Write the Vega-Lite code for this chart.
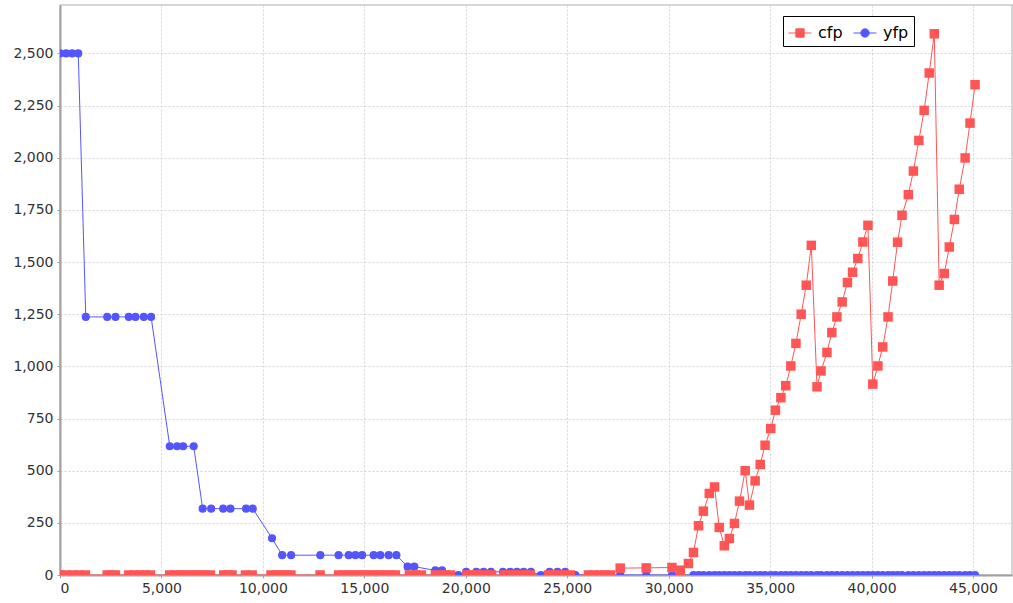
{
  "$schema": "https://vega.github.io/schema/vega-lite/v6.json",
  "width": 952,
  "height": 570,
  "autosize": {"type": "none"},
  "padding": {"left": 60, "top": 5, "right": 1, "bottom": 28},
  "background": "white",
  "config": {
    "view": {"stroke": "#c8c8c8", "strokeWidth": 1.5},
    "font": "DejaVu Sans",
    "axis": {
      "labelFont": "DejaVu Sans",
      "labelFontSize": 14,
      "labelColor": "#333333",
      "domainColor": "#a0a0a0",
      "domainWidth": 2,
      "tickColor": "#a0a0a0",
      "tickSize": 3,
      "gridColor": "#d4d4d4",
      "gridDash": [2, 2],
      "gridWidth": 1,
      "title": null
    }
  },
  "datasets": {
    "yfp": [
      {"x": 0, "v": 2500}, {"x": 300, "v": 2500}, {"x": 600, "v": 2500}, {"x": 900, "v": 2500},
      {"x": 1270, "v": 1237}, {"x": 2325, "v": 1237}, {"x": 2735, "v": 1237}, {"x": 3390, "v": 1237}, {"x": 3720, "v": 1237}, {"x": 4130, "v": 1237}, {"x": 4490, "v": 1237},
      {"x": 5410, "v": 617}, {"x": 5770, "v": 617}, {"x": 6070, "v": 617}, {"x": 6590, "v": 617},
      {"x": 7030, "v": 318}, {"x": 7450, "v": 318}, {"x": 8040, "v": 318}, {"x": 8400, "v": 318}, {"x": 9170, "v": 318}, {"x": 9500, "v": 318},
      {"x": 10450, "v": 176},
      {"x": 10950, "v": 95}, {"x": 11390, "v": 95}, {"x": 12830, "v": 95}, {"x": 13730, "v": 95}, {"x": 14230, "v": 95}, {"x": 14560, "v": 95}, {"x": 14890, "v": 95}, {"x": 15460, "v": 95}, {"x": 15790, "v": 95}, {"x": 16200, "v": 95}, {"x": 16580, "v": 95},
      {"x": 17130, "v": 40}, {"x": 17460, "v": 40},
      {"x": 18500, "v": 22}, {"x": 18830, "v": 22},
      {"x": 19630, "v": 0},
      {"x": 20020, "v": 15}, {"x": 20520, "v": 15}, {"x": 20880, "v": 15}, {"x": 21240, "v": 15}, {"x": 21830, "v": 15}, {"x": 22190, "v": 15}, {"x": 22520, "v": 15}, {"x": 22850, "v": 15}, {"x": 23210, "v": 15},
      {"x": 23700, "v": 0},
      {"x": 24130, "v": 15}, {"x": 24520, "v": 15}, {"x": 24900, "v": 15},
      {"x": 25400, "v": 0}, {"x": 27610, "v": 0}, {"x": 28890, "v": 0}, {"x": 30160, "v": 0},
      {"x": 31220, "v": 0}, {"x": 31470, "v": 0}, {"x": 31710, "v": 0}, {"x": 32000, "v": 0}, {"x": 32260, "v": 0}, {"x": 32490, "v": 0}, {"x": 32740, "v": 0}, {"x": 32990, "v": 0}, {"x": 33240, "v": 0}, {"x": 33490, "v": 0},
      {"x": 33770, "v": 0}, {"x": 33980, "v": 0}, {"x": 34260, "v": 0}, {"x": 34510, "v": 0}, {"x": 34750, "v": 0}, {"x": 35030, "v": 0}, {"x": 35260, "v": 0}, {"x": 35530, "v": 0}, {"x": 35770, "v": 0}, {"x": 36020, "v": 0},
      {"x": 36270, "v": 0}, {"x": 36530, "v": 0}, {"x": 36780, "v": 0}, {"x": 37030, "v": 0}, {"x": 37310, "v": 0}, {"x": 37510, "v": 0}, {"x": 37800, "v": 0}, {"x": 38040, "v": 0}, {"x": 38290, "v": 0}, {"x": 38550, "v": 0},
      {"x": 38810, "v": 0}, {"x": 39060, "v": 0}, {"x": 39320, "v": 0}, {"x": 39570, "v": 0}, {"x": 39820, "v": 0}, {"x": 40060, "v": 0}, {"x": 40310, "v": 0}, {"x": 40550, "v": 0}, {"x": 40810, "v": 0}, {"x": 41040, "v": 0},
      {"x": 41280, "v": 0}, {"x": 41500, "v": 0}, {"x": 41810, "v": 0}, {"x": 42060, "v": 0}, {"x": 42330, "v": 0}, {"x": 42590, "v": 0}, {"x": 42840, "v": 0}, {"x": 43090, "v": 0}, {"x": 43330, "v": 0}, {"x": 43580, "v": 0},
      {"x": 43830, "v": 0}, {"x": 44080, "v": 0}, {"x": 44320, "v": 0}, {"x": 44610, "v": 0}, {"x": 44850, "v": 0}, {"x": 45100, "v": 0}
    ],
    "cfp": [
      {"x": 0, "v": 0}, {"x": 310, "v": 0}, {"x": 620, "v": 0}, {"x": 930, "v": 0}, {"x": 1250, "v": 0},
      {"x": 2325, "v": 0}, {"x": 2530, "v": 0}, {"x": 2735, "v": 0},
      {"x": 3390, "v": 0}, {"x": 3660, "v": 0}, {"x": 3930, "v": 0}, {"x": 4190, "v": 0}, {"x": 4460, "v": 0},
      {"x": 5410, "v": 0}, {"x": 5660, "v": 0}, {"x": 5910, "v": 0}, {"x": 6160, "v": 0}, {"x": 6410, "v": 0}, {"x": 6660, "v": 0}, {"x": 6910, "v": 0}, {"x": 7160, "v": 0}, {"x": 7410, "v": 0},
      {"x": 8070, "v": 0}, {"x": 8280, "v": 0}, {"x": 8480, "v": 0},
      {"x": 9140, "v": 0}, {"x": 9470, "v": 0},
      {"x": 10400, "v": 0}, {"x": 10650, "v": 0}, {"x": 10890, "v": 0}, {"x": 11140, "v": 0}, {"x": 11380, "v": 0},
      {"x": 12820, "v": 0},
      {"x": 13730, "v": 0}, {"x": 13990, "v": 0}, {"x": 14240, "v": 0}, {"x": 14500, "v": 0}, {"x": 14750, "v": 0}, {"x": 15000, "v": 0}, {"x": 15260, "v": 0}, {"x": 15510, "v": 0}, {"x": 15770, "v": 0}, {"x": 16020, "v": 0}, {"x": 16280, "v": 0}, {"x": 16530, "v": 0},
      {"x": 17220, "v": 0}, {"x": 17520, "v": 0}, {"x": 17810, "v": 0},
      {"x": 18500, "v": 0}, {"x": 18750, "v": 0}, {"x": 19000, "v": 0}, {"x": 19240, "v": 0},
      {"x": 20060, "v": 0}, {"x": 20300, "v": 0}, {"x": 20540, "v": 0}, {"x": 20790, "v": 0}, {"x": 21030, "v": 0}, {"x": 21270, "v": 0},
      {"x": 21900, "v": 0}, {"x": 22160, "v": 0}, {"x": 22410, "v": 0}, {"x": 22670, "v": 0}, {"x": 22920, "v": 0}, {"x": 23180, "v": 0},
      {"x": 24080, "v": 0}, {"x": 24350, "v": 0}, {"x": 24620, "v": 0}, {"x": 24880, "v": 0}, {"x": 25150, "v": 0},
      {"x": 26050, "v": 0}, {"x": 26320, "v": 0}, {"x": 26590, "v": 0}, {"x": 26850, "v": 0}, {"x": 27120, "v": 0},
      {"x": 27610, "v": 33}, {"x": 28890, "v": 34}, {"x": 30160, "v": 36}, {"x": 30570, "v": 23}, {"x": 30970, "v": 55},
      {"x": 31220, "v": 108}, {"x": 31470, "v": 236}, {"x": 31710, "v": 306}, {"x": 32000, "v": 391}, {"x": 32260, "v": 422},
      {"x": 32490, "v": 228}, {"x": 32740, "v": 140}, {"x": 32990, "v": 175}, {"x": 33240, "v": 247}, {"x": 33490, "v": 354},
      {"x": 33770, "v": 500}, {"x": 33980, "v": 335}, {"x": 34260, "v": 451}, {"x": 34510, "v": 530}, {"x": 34750, "v": 622},
      {"x": 35030, "v": 702}, {"x": 35260, "v": 790}, {"x": 35530, "v": 850}, {"x": 35770, "v": 907}, {"x": 36020, "v": 1002},
      {"x": 36270, "v": 1110}, {"x": 36530, "v": 1250}, {"x": 36780, "v": 1389}, {"x": 37030, "v": 1580}, {"x": 37310, "v": 902},
      {"x": 37510, "v": 978}, {"x": 37800, "v": 1067}, {"x": 38040, "v": 1162}, {"x": 38290, "v": 1237}, {"x": 38550, "v": 1309},
      {"x": 38810, "v": 1402}, {"x": 39060, "v": 1451}, {"x": 39320, "v": 1517}, {"x": 39570, "v": 1596}, {"x": 39820, "v": 1676},
      {"x": 40060, "v": 915}, {"x": 40310, "v": 1002}, {"x": 40550, "v": 1093}, {"x": 40810, "v": 1237}, {"x": 41040, "v": 1409},
      {"x": 41280, "v": 1595}, {"x": 41500, "v": 1724}, {"x": 41810, "v": 1823}, {"x": 42060, "v": 1936}, {"x": 42330, "v": 2083},
      {"x": 42590, "v": 2227}, {"x": 42840, "v": 2406}, {"x": 43090, "v": 2594}, {"x": 43330, "v": 1389}, {"x": 43580, "v": 1445},
      {"x": 43830, "v": 1572}, {"x": 44080, "v": 1704}, {"x": 44320, "v": 1849}, {"x": 44610, "v": 1999}, {"x": 44850, "v": 2166},
      {"x": 45100, "v": 2350}
    ]
  },
  "encoding": {
    "x": {
      "field": "x", "type": "quantitative",
      "scale": {"domain": [0, 46920], "nice": false, "zero": false},
      "axis": {"values": [0, 5000, 10000, 15000, 20000, 25000, 30000, 35000, 40000, 45000], "format": ",.0f", "labelPadding": 3}
    },
    "y": {
      "field": "v", "type": "quantitative",
      "scale": {"domain": [0, 2732], "nice": false},
      "axis": {"values": [0, 250, 500, 750, 1000, 1250, 1500, 1750, 2000, 2250, 2500], "format": ",.0f", "labelPadding": 4}
    },
    "color": {
      "field": "s", "type": "nominal",
      "scale": {"domain": ["cfp", "yfp"], "range": ["#FF5555", "#5555FF"]},
      "legend": {
        "title": null,
        "orient": "none",
        "legendX": 723,
        "legendY": 11,
        "direction": "horizontal",
        "strokeColor": "#000000",
        "fillColor": "#ffffff",
        "padding": 5,
        "labelFontSize": 16,
        "labelFont": "DejaVu Sans",
        "labelColor": "#000000",
        "labelOffset": 6,
        "columnPadding": 8,
        "symbolSize": 529,
        "encode": {
          "symbols": {
            "update": {
              "shape": {"signal": "datum.value === 'cfp' ? 'M-1,0H1M-0.36,-0.36H0.36V0.36H-0.36Z' : 'M-1,0H1M0.36,0A0.36,0.36 0 1,1 -0.36,0A0.36,0.36 0 1,1 0.36,0Z'"},
              "fill": {"signal": "datum.value === 'cfp' ? '#FF5555' : '#5555FF'"},
              "stroke": {"signal": "datum.value === 'cfp' ? '#FF5555' : '#5555FF'"},
              "strokeWidth": {"value": 1},
              "opacity": {"value": 1},
              "size": {"value": 529}
            }
          }
        }
      }
    }
  },
  "layer": [
    {
      "data": {"name": "yfp"},
      "transform": [{"calculate": "'yfp'", "as": "s"}],
      "mark": {"type": "line", "clip": true, "strokeWidth": 1},
      "encoding": {}
    },
    {
      "data": {"name": "cfp"},
      "transform": [{"calculate": "'cfp'", "as": "s"}],
      "mark": {"type": "line", "clip": true, "strokeWidth": 1},
      "encoding": {}
    },
    {
      "data": {"name": "yfp"},
      "transform": [{"calculate": "'yfp'", "as": "s"}],
      "mark": {"type": "point", "shape": "circle", "filled": true, "opacity": 1, "size": 66, "clip": true},
      "encoding": {}
    },
    {
      "data": {"name": "cfp"},
      "transform": [{"calculate": "'cfp'", "as": "s"}],
      "mark": {"type": "point", "shape": "square", "filled": true, "opacity": 1, "size": 90, "clip": true},
      "encoding": {}
    }
  ]
}
